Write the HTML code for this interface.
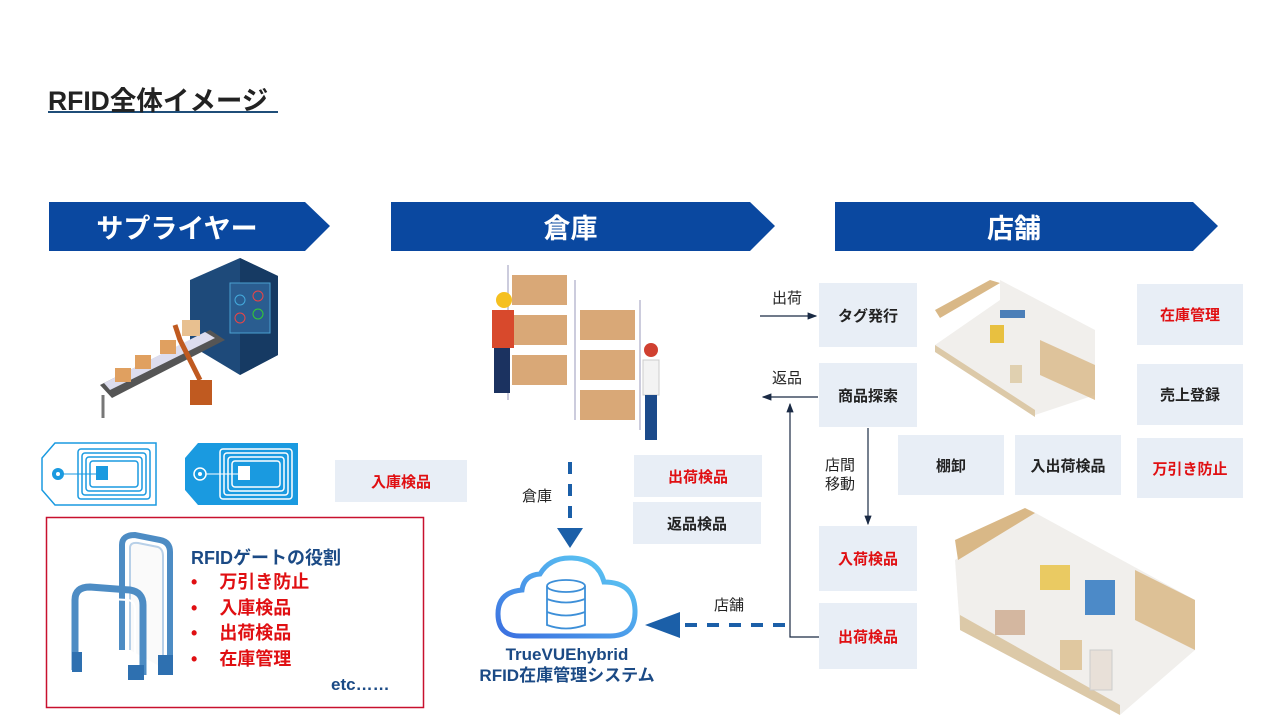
<!DOCTYPE html>
<html><head><meta charset="utf-8"><style>
html,body{margin:0;padding:0;background:#fff;}
body{width:1280px;height:720px;overflow:hidden;position:relative;font-family:"Liberation Sans","Noto Sans CJK JP",sans-serif;}
.a{position:absolute;}
.box{position:absolute;background:#e8eef6;display:flex;align-items:center;justify-content:center;font-weight:bold;font-size:15px;color:#222;}
.red{color:#e00f12;}
.lbl{position:absolute;font-size:15px;color:#222;line-height:1.25;}
.ban{position:absolute;color:#fff;font-weight:bold;font-size:27px;display:flex;align-items:center;justify-content:center;}
</style></head><body>
<svg class="a" style="left:0;top:0" width="1280" height="720" xmlns="http://www.w3.org/2000/svg">
<defs>
<linearGradient id="cg" x1="0" y1="1" x2="1" y2="0"><stop offset="0" stop-color="#3b6fe0"/><stop offset="1" stop-color="#5fd0f5"/></linearGradient>
<marker id="ah" markerWidth="8" markerHeight="8" refX="7" refY="4" orient="auto"><path d="M0,1 L8,4 L0,7 Z" fill="#1a2a44"/></marker>
</defs>
<rect x="48" y="111" width="230" height="2" fill="#1f4e79"/>
<polygon points="49,202 305,202 330,226 305,251 49,251" fill="#0a48a0"/>
<polygon points="391,202 750,202 775,226 750,251 391,251" fill="#0a48a0"/>
<polygon points="835,202 1193,202 1218,226 1193,251 835,251" fill="#0a48a0"/>
<polygon points="190,280 240,258 278,276 278,355 240,375 190,345" fill="#1e4a7a"/>
<polygon points="240,258 278,276 278,355 240,375" fill="#163a63"/>
<rect x="230" y="283" width="40" height="50" fill="#2a5d90" stroke="#4aa0d0"/>
<circle cx="240" cy="300" r="5" fill="none" stroke="#4ad"/><circle cx="258" cy="296" r="5" fill="none" stroke="#e44"/><circle cx="240" cy="318" r="5" fill="none" stroke="#e44"/><circle cx="258" cy="314" r="5" fill="none" stroke="#3c3"/>
<polygon points="100,385 210,330 225,340 112,398" fill="#555"/>
<polygon points="104,383 205,332 215,338 110,390" fill="#dde"/>
<rect x="115" y="368" width="16" height="14" fill="#e0a060"/><rect x="135" y="355" width="16" height="14" fill="#e0a060"/><rect x="160" y="340" width="16" height="14" fill="#e0a060"/><rect x="182" y="320" width="18" height="16" fill="#e8c090"/>
<rect x="190" y="380" width="22" height="25" fill="#c05a20"/><path d="M200,380 L180,340 L175,325" stroke="#c05a20" stroke-width="5" fill="none"/>
<line x1="103" y1="395" x2="103" y2="418" stroke="#777" stroke-width="3"/>
<g fill="#d9a877">
<rect x="512" y="275" width="55" height="30"/><rect x="512" y="315" width="55" height="30"/><rect x="512" y="355" width="55" height="30"/>
<rect x="580" y="310" width="55" height="30"/><rect x="580" y="350" width="55" height="30"/><rect x="580" y="390" width="55" height="30"/>
</g>
<g stroke="#ccd" stroke-width="2"><line x1="508" y1="265" x2="508" y2="400"/><line x1="575" y1="280" x2="575" y2="420"/><line x1="640" y1="300" x2="640" y2="430"/></g>
<rect x="492" y="310" width="22" height="38" fill="#d8492c"/><circle cx="504" cy="300" r="8" fill="#f5c020"/><rect x="494" y="348" width="16" height="45" fill="#1b3260"/>
<rect x="643" y="360" width="16" height="35" fill="#f3f3f3" stroke="#ccc"/><circle cx="651" cy="350" r="7" fill="#d04030"/><rect x="645" y="395" width="12" height="45" fill="#1b4a8a"/>
<polygon points="55,443 156,443 156,505 55,505 42,490 42,458" fill="#fff" stroke="#1a9ae0" stroke-width="1.5"/>
<circle cx="58" cy="474" r="6" fill="#1a9ae0"/><circle cx="58" cy="474" r="2" fill="#fff"/>
<g fill="none" stroke="#1a9ae0" stroke-width="1.5"><rect x="78" y="449" width="72" height="50" rx="3"/><rect x="82" y="453" width="64" height="42" rx="3"/><rect x="86" y="457" width="56" height="34" rx="3"/><rect x="90" y="461" width="48" height="26" rx="3"/></g>
<rect x="96" y="466" width="12" height="14" fill="#1a9ae0"/><line x1="64" y1="474" x2="96" y2="474" stroke="#1a9ae0"/>
<polygon points="198,443 298,443 298,505 198,505 185,490 185,458" fill="#1a9ae0"/>
<circle cx="200" cy="474" r="6" fill="none" stroke="#fff" stroke-width="1.5"/><circle cx="200" cy="474" r="2" fill="#fff"/>
<g fill="none" stroke="#fff" stroke-width="1.5"><rect x="220" y="449" width="72" height="50" rx="3"/><rect x="224" y="453" width="64" height="42" rx="3"/><rect x="228" y="457" width="56" height="34" rx="3"/><rect x="232" y="461" width="48" height="26" rx="3"/></g>
<rect x="238" y="466" width="12" height="14" fill="#fff"/><line x1="206" y1="474" x2="238" y2="474" stroke="#fff"/>
<rect x="46.5" y="517.5" width="377" height="190" fill="none" stroke="#c8102e" stroke-width="1.5"/>
<path d="M122,650 L122,545 Q122,535 135,535 L160,540 Q170,542 170,552 L170,672" fill="none" stroke="#4d8cc4" stroke-width="6"/>
<path d="M130,650 L130,548 Q130,542 138,543 L158,547 Q163,549 163,556 L163,668" fill="#fafafa" stroke="#b8d0e8" stroke-width="2"/>
<path d="M75,670 L75,600 Q75,587 90,587 L130,590 Q143,592 143,605 L143,675" fill="none" stroke="#4d8cc4" stroke-width="7"/>
<path d="M83,668 L83,605 Q83,597 92,598 L128,600 Q135,601 135,610 L135,672" fill="none" stroke="#fff" stroke-width="2"/>
<rect x="72" y="652" width="10" height="20" fill="#2e70b0"/><rect x="128" y="665" width="16" height="15" fill="#2e70b0"/><rect x="158" y="655" width="15" height="20" fill="#2e70b0"/>
<line x1="570" y1="462" x2="570" y2="528" stroke="#1b5fa8" stroke-width="4" stroke-dasharray="12,10"/>
<polygon points="557,528 583,528 570,548" fill="#1b5fa8"/>
<line x1="785" y1="625" x2="680" y2="625" stroke="#1b5fa8" stroke-width="4" stroke-dasharray="12,10"/>
<polygon points="680,612 680,638 645,625" fill="#1b5fa8"/>
<path d="M520,636 Q498,636 498,614 Q498,592 522,590 Q524,575 540,574 Q550,557 572,558 Q598,559 604,582 Q634,582 635,610 Q636,636 610,636 Z" fill="#fff" stroke="url(#cg)" stroke-width="5"/>
<g fill="none" stroke="#3d8fd8" stroke-width="1.8"><ellipse cx="566" cy="586" rx="19" ry="6"/><path d="M547,586 L547,625 Q566,632 585,625 L585,586"/><path d="M547,599 Q566,606 585,599"/><path d="M547,612 Q566,619 585,612"/></g>
<line x1="760" y1="316" x2="816" y2="316" stroke="#1a2a44" stroke-width="1.2" marker-end="url(#ah)"/>
<line x1="818" y1="397" x2="763" y2="397" stroke="#1a2a44" stroke-width="1.2" marker-end="url(#ah)"/>
<line x1="868" y1="428" x2="868" y2="524" stroke="#1a2a44" stroke-width="1.2" marker-end="url(#ah)"/>
<polyline points="819,637 790,637 790,404" fill="none" stroke="#1a2a44" stroke-width="1.2" marker-end="url(#ah)"/>
<polygon points="935,345 1000,300 1000,280 1095,330 1095,395 1035,415" fill="#f1efec"/>
<polygon points="935,310 990,280 1000,283 940,318" fill="#d9b887"/>
<polygon points="1040,340 1095,365 1095,400 1040,375" fill="#d9b887" opacity=".8"/>
<polygon points="935,345 1035,410 1035,417 935,352" fill="#dcc9a8"/>
<rect x="1000" y="310" width="25" height="8" fill="#4c7fb8"/><rect x="990" y="325" width="14" height="18" fill="#e8c040"/><rect x="1010" y="365" width="12" height="18" fill="#e0d0b0"/>
<polygon points="955,560 1030,510 1195,600 1195,650 1120,715 960,630" fill="#f1efec"/>
<polygon points="955,540 1025,508 1035,513 958,560" fill="#d9b887"/>
<polygon points="1135,570 1195,600 1195,650 1135,620" fill="#d9b887" opacity=".85"/>
<polygon points="960,615 1120,705 1120,715 960,630" fill="#dcc9a8"/>
<rect x="1040" y="565" width="30" height="25" fill="#e8c040" opacity=".8"/><rect x="1085" y="580" width="30" height="35" fill="#4c8ac8"/><rect x="995" y="610" width="30" height="25" fill="#c8a080" opacity=".7"/>
<rect x="1060" y="640" width="22" height="30" fill="#e0c8a0"/><rect x="1090" y="650" width="22" height="40" fill="#e8e0d8" stroke="#ccc"/>
</svg>

<div class="a" style="left:48px;top:79px;font-size:26.5px;font-weight:bold;color:#222;">RFID全体イメージ</div>
<div class="ban" style="left:49px;top:202px;width:256px;height:49px;">サプライヤー</div>
<div class="ban" style="left:391px;top:202px;width:359px;height:49px;">倉庫</div>
<div class="ban" style="left:835px;top:202px;width:358px;height:49px;">店舗</div>

<div class="box red" style="left:335px;top:460px;width:132px;height:42px;">入庫検品</div>
<div class="box red" style="left:634px;top:455px;width:128px;height:42px;">出荷検品</div>
<div class="box" style="left:633px;top:502px;width:128px;height:42px;">返品検品</div>

<div class="box" style="left:819px;top:283px;width:98px;height:64px;">タグ発行</div>
<div class="box" style="left:819px;top:363px;width:98px;height:64px;">商品探索</div>
<div class="box red" style="left:819px;top:526px;width:98px;height:65px;">入荷検品</div>
<div class="box red" style="left:819px;top:603px;width:98px;height:66px;">出荷検品</div>
<div class="box" style="left:898px;top:435px;width:106px;height:60px;">棚卸</div>
<div class="box" style="left:1015px;top:435px;width:106px;height:60px;">入出荷検品</div>
<div class="box red" style="left:1137px;top:284px;width:106px;height:61px;">在庫管理</div>
<div class="box" style="left:1137px;top:364px;width:106px;height:61px;">売上登録</div>
<div class="box red" style="left:1137px;top:438px;width:106px;height:60px;">万引き防止</div>

<div class="lbl" style="left:772px;top:290px;">出荷</div>
<div class="lbl" style="left:772px;top:370px;">返品</div>
<div class="lbl" style="left:825px;top:457px;">店間<br>移動</div>
<div class="lbl" style="left:522px;top:488px;">倉庫</div>
<div class="lbl" style="left:714px;top:597px;">店舗</div>

<div class="a" style="left:470px;top:644px;width:194px;text-align:center;color:#1b4a85;font-weight:bold;font-size:17px;line-height:21px;">TrueVUEhybrid<br>RFID在庫管理システム</div>

<div class="a" style="left:191px;top:544px;color:#1b4a85;font-weight:bold;font-size:18px;">RFIDゲートの役割</div>
<div class="a" style="left:191px;top:570px;color:#e00f12;font-weight:bold;font-size:18px;line-height:25.5px;">
<div>•<span style="margin-left:22px">万引き防止</span></div>
<div>•<span style="margin-left:22px">入庫検品</span></div>
<div>•<span style="margin-left:22px">出荷検品</span></div>
<div>•<span style="margin-left:22px">在庫管理</span></div>
</div>
<div class="a" style="left:331px;top:675px;color:#1b4a85;font-weight:bold;font-size:17px;">etc……</div>
</body></html>
